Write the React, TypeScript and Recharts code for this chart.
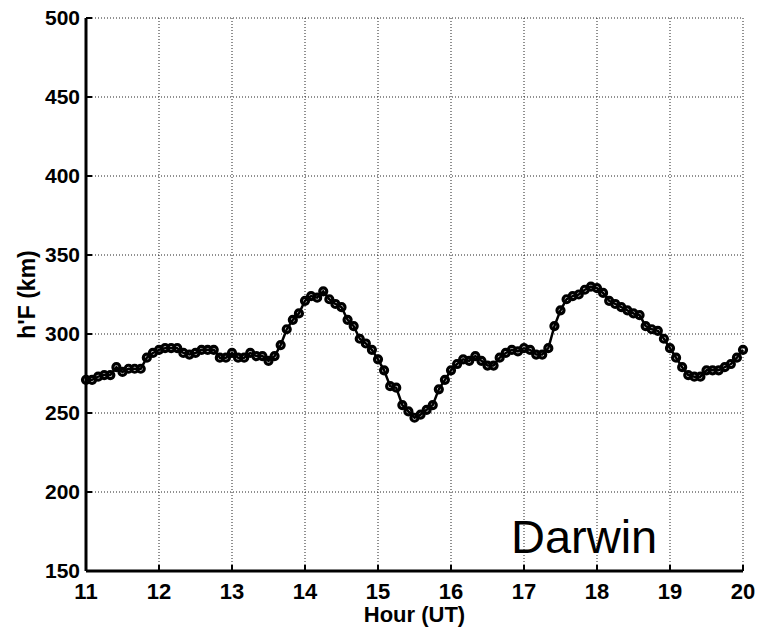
import { CartesianGrid, Customized, Line, LineChart, XAxis, YAxis } from "recharts";

// ionosonde h'F readings, Darwin, 5-minute sampling from 11:00 UT
const START_HOUR = 11;
const STEP_MIN = 5;

const hF_11 = [271, 271, 273, 274, 274, 279, 276, 278, 278, 278, 285, 288];
const hF_12 = [290, 291, 291, 291, 288, 287, 288, 290, 290, 290, 285, 285];
const hF_13 = [288, 285, 285, 288, 286, 286, 283, 286, 293, 303, 309, 313];
const hF_14 = [321, 324, 323, 327, 322, 319, 317, 309, 305, 297, 294, 290];
const hF_15 = [284, 277, 267, 266, 255, 251, 247, 249, 252, 255, 265, 271];
const hF_16 = [277, 281, 284, 283, 286, 283, 280, 280, 285, 288, 290, 289];
const hF_17 = [291, 290, 287, 287, 291, 305, 315, 322, 324, 325, 328, 330];
const hF_18 = [329, 326, 321, 319, 317, 315, 313, 312, 305, 303, 302, 297];
const hF_19 = [291, 285, 279, 274, 273, 273, 277, 277, 277, 279, 281, 285];
const hF_20 = [290];

const hourTicks = [11, 12, 13, 14, 15, 16, 17, 18, 19, 20];
const heightTicks = [150, 200, 250, 300, 350, 400, 450, 500];

const readings = [
  ...hF_11, ...hF_12, ...hF_13, ...hF_14, ...hF_15,
  ...hF_16, ...hF_17, ...hF_18, ...hF_19, ...hF_20,
];
const data = readings.map((h, i) => ({ hour: START_HOUR + (i * STEP_MIN) / 60, h }));

const FONT = "'Liberation Sans', Arial, Helvetica, sans-serif";
const yTickStyle = { fontSize: 21, fontWeight: 700, fill: "#000", fontFamily: FONT };
const xTickStyle = { fontSize: 22, fontWeight: 700, fill: "#000", fontFamily: FONT };
const axisLine = { stroke: "#000", strokeWidth: 3 };
const tickLine = { stroke: "#000", strokeWidth: 2 };

export default function App() {
  return (
    <div style={{ position: "absolute", left: 0, top: 0, width: 764, height: 633, background: "#fff" }}>
      <LineChart width={764} height={633} data={data} margin={{ top: 18, right: 21, left: 0, bottom: 0 }}>
        <CartesianGrid stroke="#222" strokeDasharray="1 2" strokeWidth={1} />
        <XAxis
          dataKey="hour"
          type="number"
          domain={[11, 20]}
          ticks={hourTicks}
          height={62}
          tick={xTickStyle}
          tickSize={-6}
          tickMargin={18}
          axisLine={axisLine}
          tickLine={tickLine}
          label={{
            value: "Hour (UT)",
            position: "insideBottom",
            offset: 11,
            style: { fontSize: 22, fontWeight: 700, fill: "#000", fontFamily: FONT },
          }}
        />
        <XAxis
          xAxisId="top"
          orientation="top"
          dataKey="hour"
          type="number"
          domain={[11, 20]}
          ticks={hourTicks}
          height={0}
          tick={false}
          tickSize={-6}
          axisLine={axisLine}
          tickLine={tickLine}
        />
        <YAxis
          type="number"
          domain={[150, 500]}
          ticks={heightTicks}
          width={86}
          tick={yTickStyle}
          tickSize={-6}
          tickMargin={12}
          axisLine={axisLine}
          tickLine={tickLine}
          label={{
            value: "h'F (km)",
            angle: -90,
            position: "insideLeft",
            offset: 27,
            style: { textAnchor: "middle", fontSize: 23, fontWeight: 700, fill: "#000", fontFamily: FONT },
          }}
        />
        <YAxis
          yAxisId="right"
          orientation="right"
          type="number"
          domain={[150, 500]}
          ticks={heightTicks}
          width={0}
          tick={false}
          tickSize={-6}
          axisLine={axisLine}
          tickLine={tickLine}
        />
        <Line
          type="linear"
          dataKey="h"
          stroke="#000"
          strokeWidth={2.5}
          dot={{ r: 3.5, stroke: "#000", strokeWidth: 3.2, fill: "none" }}
          isAnimationActive={false}
        />
        <Customized
          component={() => (
            <text x={511} y={553} fontSize={47} fontFamily={FONT} fill="#000">
              Darwin
            </text>
          )}
        />
      </LineChart>
    </div>
  );
}
